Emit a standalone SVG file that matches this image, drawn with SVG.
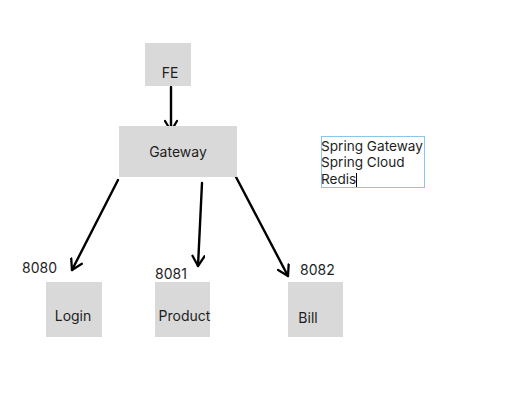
<svg xmlns="http://www.w3.org/2000/svg" width="524" height="409" viewBox="0 0 524 409">
<defs>
<style>
.box{fill:#d9d9d9}
.t{font-family:Inter,"Liberation Sans",sans-serif;font-size:14px;fill:#1e1e1e}
.n{font-size:13.6px}
.c{fill:none;stroke:#000;stroke-width:2.4;stroke-linecap:round}
</style>
<marker id="ah" viewBox="0 0 14 14" refX="12" refY="7" markerWidth="14" markerHeight="14" markerUnits="userSpaceOnUse" orient="auto">
<path d="M2,1 L12,7 L2,13" fill="none" stroke="#000" stroke-width="2.3" stroke-linecap="round" stroke-linejoin="round"/>
</marker>
</defs>
<rect width="524" height="409" fill="#fff"/>
<g id="connectors">
<line class="c" x1="171" y1="87" x2="171" y2="131" marker-end="url(#ah)"/>
<line class="c" x1="118" y1="180" x2="72" y2="270" marker-end="url(#ah)"/>
<line class="c" x1="202" y1="183" x2="198" y2="266" marker-end="url(#ah)"/>
<line class="c" x1="236" y1="177" x2="288" y2="276" marker-end="url(#ah)"/>
</g>
<g id="fe"><rect class="box" x="145" y="43" width="46" height="43"/><text class="t" x="170" y="78" text-anchor="middle">FE</text></g>
<g id="gateway"><rect class="box" x="119" y="126" width="118" height="51"/><text class="t" x="178" y="157" text-anchor="middle">Gateway</text></g>
<g id="login"><rect class="box" x="46" y="282" width="56" height="55"/><text class="t" x="73" y="321" text-anchor="middle">Login</text></g>
<g id="product"><rect class="box" x="155" y="282" width="55" height="55"/><text class="t" x="184.5" y="321" text-anchor="middle">Product</text></g>
<g id="bill"><rect class="box" x="288" y="282" width="55" height="55"/><text class="t" x="308" y="323" text-anchor="middle">Bill</text></g>
<g id="ports">
<text class="t" x="22" y="273">8080</text>
<text class="t" x="155" y="279">8081</text>
<text class="t" x="300" y="275">8082</text>
</g>
<g id="note">
<rect x="321.5" y="136.5" width="103" height="51" fill="#fff" stroke="#8cc4ea" stroke-width="1"/>
<text class="t n" x="321" y="151">Spring Gateway</text>
<text class="t n" x="321" y="167">Spring Cloud</text>
<text class="t n" x="321" y="184">Redis</text>
<line x1="356.5" y1="173" x2="356.5" y2="187" stroke="#000" stroke-width="1"/>
</g>
</svg>
